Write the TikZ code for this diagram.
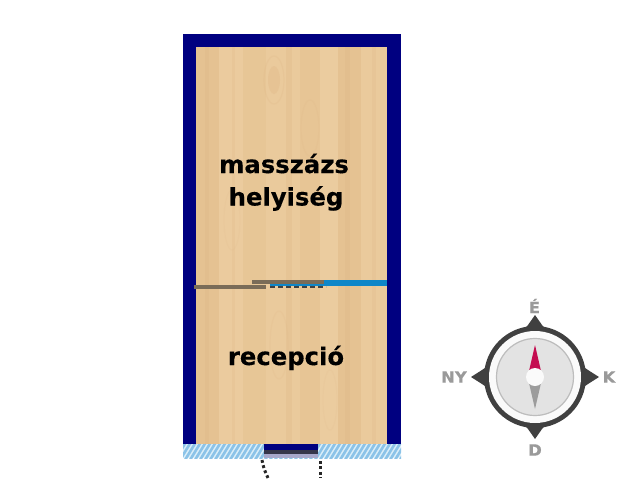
\documentclass[tikz,border=0pt]{standalone}
\usepackage{fontspec}
\setmainfont{DejaVu Sans}
\newfontfamily\dirfont[FakeBold=0.5,FakeStretch=1.06]{DejaVu Sans Bold}
\newfontfamily\roomfont[FakeBold=0.25]{DejaVu Sans Bold}
\definecolor{navy}{HTML}{000080}
\definecolor{woodA}{HTML}{E9C899}
\definecolor{woodB}{HTML}{DDB483}
\definecolor{woodC}{HTML}{F0D3A8}
\definecolor{hatch}{HTML}{8CC3E8}
\definecolor{hatchbg}{HTML}{DCEFF9}
\definecolor{doorgray}{HTML}{7A6C58}
\definecolor{pipeblue}{HTML}{0E86C8}
\definecolor{ringdark}{HTML}{404040}
\definecolor{dial}{HTML}{E3E3E3}
\definecolor{dialedge}{HTML}{BDBDBD}
\definecolor{needlered}{HTML}{C40C50}
\definecolor{needlegray}{HTML}{9C9C9C}
\definecolor{lettergray}{HTML}{9A9A9A}
\tikzset{
  roomlabel/.style={font=\roomfont\fontsize{24.3}{31}\selectfont,text=black,inner sep=0pt,anchor=base},
  dirlabel/.style={font=\dirfont\fontsize{15.5}{15.5}\selectfont,text=lettergray,inner sep=0pt},
  walkline/.style={line width=3pt,black!85,dash pattern=on 2.8pt off 2.6pt}
}
\begin{document}
\begin{tikzpicture}[x=1pt,y=-1pt]
\useasboundingbox (0,0) rectangle (640,480);
\fill[white] (0,0) rectangle (640,480);
% walls
\fill[navy] (183,34) rectangle (401,445);
% floor
\fill[woodA] (196,47) rectangle (387,444);
\begin{scope}
\clip (196,47) rectangle (387,444);
\foreach \x/\w/\c/\o in {196/23/woodB/30,205/4/woodB/25,219/24/woodC/35,232/3/woodB/20,243/23/woodB/10,266/34/woodC/20,286/6/woodB/25,300/20/woodB/15,320/18/woodC/40,338/23/woodB/30,345/5/woodB/25,361/26/woodC/25,372/4/woodB/20}{
  \fill[\c,opacity=\o/100] (\x,47) rectangle ++(\w,397);
}
\foreach \o/\cy/\ry/\cx/\rx in {20/80/24/274/10,15/128/28/310/9,15/345/34/279/9,10/220/30/232/8,10/400/30/330/7}{
  \draw[woodB,line width=1.2pt,opacity=\o/100] (\cx,\cy) ellipse ({\rx} and {\ry});
}
\fill[woodB,opacity=.3] (274,80) ellipse (6 and 14);
\end{scope}
% hatched strip
\fill[hatchbg] (183,444) rectangle (401,458);
\begin{scope}
\clip (183,444) rectangle (401,458);
\foreach \x in {170,175,...,410}{
  \draw[hatch,line width=2.6pt] (\x,460) -- (\x+11,442);
}
\end{scope}
% entrance
\fill[navy] (264,444) rectangle (318,450);
\fill[ringdark!85!navy] (264,450) rectangle (318,453.5);
\fill[blue!25!gray!55] (264,453.5) rectangle (318,458);
% walking lines
\draw[walkline] (262,460) .. controls (263,467) and (266,474) .. (269,480);
\draw[walkline] (320,461) -- (320,478);
% partition
\fill[pipeblue] (270,280) rectangle (387,286);
\draw[ringdark,line width=1.2pt,dash pattern=on 5pt off 3pt] (270,287) -- (326,287);
\fill[doorgray] (252,279.5) rectangle (324,283.5);
\fill[doorgray] (194,285) rectangle (266,289);
% room labels
\node[roomlabel] (massage) at (284,173) {masszázs};
\node[roomlabel] (bath) at (286,205.5) {helyiség};
\node[roomlabel] (reception) at (286,365) {recepció};
% compass
\fill[ringdark] (535,377) circle (51);
\fill[ringdark] (522,332) .. controls (525,328) and (527,326) .. (528,325) -- (535,315) -- (542,325) .. controls (543,326) and (545,328) .. (548,332) -- cycle;
\fill[ringdark] (522,422) .. controls (525,426) and (527,428) .. (528,429) -- (535,439) -- (542,429) .. controls (543,428) and (545,426) .. (548,422) -- cycle;
\fill[ringdark] (490,364) .. controls (486,367) and (484,369) .. (482,370) -- (471,377) -- (482,384) .. controls (484,385) and (486,387) .. (490,390) -- cycle;
\fill[ringdark] (580,364) .. controls (584,367) and (586,369) .. (588,370) -- (599,377) -- (588,384) .. controls (586,385) and (584,387) .. (580,390) -- cycle;
\fill[white!96!gray] (535,377) circle (46);
\fill[dial] (535,377) circle (39);
\draw[dialedge,line width=1.2pt] (535,377) circle (38.5);
\fill[needlered] (535,345) -- (541,371) -- (529,371) -- cycle;
\fill[needlegray] (535,409) -- (541,383) -- (529,383) -- cycle;
\fill[white!96!gray] (535,377) circle (9);
\node[dirlabel] (north) at (534.5,306) {É};
\node[dirlabel] (west) at (454,377) {NY};
\node[dirlabel] (east) at (609,377) {K};
\node[dirlabel] (south) at (535,450) {D};
\end{tikzpicture}
\end{document}
